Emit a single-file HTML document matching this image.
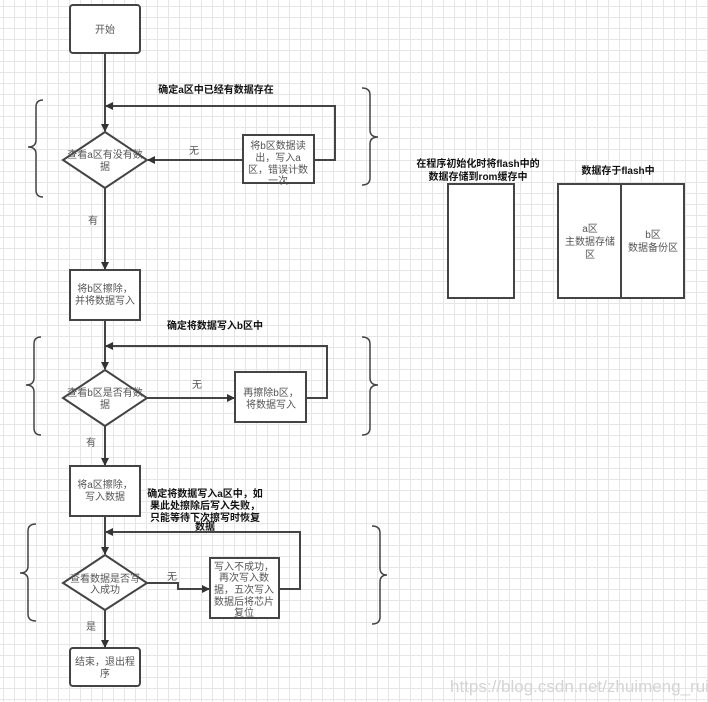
<!DOCTYPE html>
<html><head><meta charset="utf-8"><style>
html,body{margin:0;padding:0;background:#fff;}
body{width:708px;height:702px;overflow:hidden;position:relative;
background-image:linear-gradient(to right,#e6e6e6 1px,transparent 1px),linear-gradient(to bottom,#e6e6e6 1px,transparent 1px);
background-size:11px 11px;background-position:3px 6px;}
svg{position:absolute;left:0;top:0;}
text{font-family:"Liberation Sans","Noto Sans CJK SC",sans-serif;}
.n{font-size:10px;fill:#555;text-anchor:middle;}
.b{font-size:10px;fill:#111;font-weight:bold;text-anchor:middle;}
</style></head><body>
<svg width="708" height="702" viewBox="0 0 708 702">
<defs><marker id="a" markerWidth="8" markerHeight="8" refX="7" refY="4" orient="auto" markerUnits="userSpaceOnUse"><path d="M0,0 L8,4 L0,8 z" fill="#333"/></marker></defs>
<g fill="#fff" stroke="#444" stroke-width="2">
<rect x="70" y="5" width="70" height="48" rx="3"/>
<polygon points="105,132 147,160 105,188 63,160"/>
<rect x="243" y="135" width="71" height="48"/>
<rect x="70" y="270" width="70" height="50"/>
<polygon points="105,370 147,398 105,426 63,398"/>
<rect x="235" y="372" width="71" height="50"/>
<rect x="70" y="466" width="70" height="50"/>
<polygon points="105,555 147,583 105,610 63,583"/>
<rect x="210" y="558" width="69" height="60"/>
<rect x="70" y="648" width="70" height="38" rx="3"/>
<rect x="448" y="184" width="66" height="114"/>
<rect x="558" y="184" width="126" height="114"/>
<line x1="621" y1="184" x2="621" y2="298"/>
</g>
<g fill="none" stroke="#444" stroke-width="2">
<line x1="105" y1="53" x2="105" y2="131" marker-end="url(#a)"/>
<polyline points="314,160 335,160 335,106 106,106" marker-end="url(#a)"/>
<line x1="243" y1="160" x2="148" y2="160" marker-end="url(#a)"/>
<line x1="105" y1="188" x2="105" y2="269" marker-end="url(#a)"/>
<line x1="105" y1="320" x2="105" y2="369" marker-end="url(#a)"/>
<polyline points="306,398 327,398 327,346 106,346" marker-end="url(#a)"/>
<line x1="147" y1="398" x2="234" y2="398" marker-end="url(#a)"/>
<line x1="105" y1="426" x2="105" y2="465" marker-end="url(#a)"/>
<line x1="105" y1="516" x2="105" y2="554" marker-end="url(#a)"/>
<polyline points="279,589 300,589 300,532 106,532" marker-end="url(#a)"/>
<polyline points="147,583 178,583 178,589 209,589" marker-end="url(#a)"/>
<line x1="105" y1="610" x2="105" y2="647" marker-end="url(#a)"/>
</g>
<g fill="none" stroke="#444" stroke-width="1.5">
<path d="M43,100 Q36,100 36,107 L36,140 Q36,147 28,147 Q36,147 36,154 L36,190 Q36,197 43,197"/>
<path d="M362,88 Q370,88 370,95 L370,130 Q370,137 378,137 Q370,137 370,144 L370,178 Q370,185 362,185"/>
<path d="M41,337 Q34,337 34,344 L34,378 Q34,385 26,385 Q34,385 34,392 L34,428 Q34,435 41,435"/>
<path d="M362,337 Q370,337 370,344 L370,378 Q370,385 378,385 Q370,385 370,392 L370,428 Q370,435 362,435"/>
<path d="M36,524 Q28,524 28,531 L28,566 Q28,573 20,573 Q28,573 28,580 L28,614 Q28,621 36,621"/>
<path d="M372,526 Q380,526 380,533 L380,568 Q380,575 387,575 Q380,575 380,582 L380,617 Q380,624 372,624"/>
</g>
<text class="n" x="105" y="33">开始</text>
<text class="b" x="216" y="93">确定a区中已经有数据存在</text>
<text class="n" x="105" y="158">查看a区有没有数</text>
<text class="n" x="105" y="170">据</text>
<text class="n" x="194" y="154">无</text>
<text class="n" x="278" y="149">将b区数据读</text>
<text class="n" x="278" y="161">出，写入a</text>
<text class="n" x="278" y="173">区，错误计数</text>
<text class="n" x="278" y="184">一次</text>
<text class="n" x="93" y="224">有</text>
<text class="n" x="105" y="292">将b区擦除，</text>
<text class="n" x="105" y="304">并将数据写入</text>
<text class="b" x="215" y="329">确定将数据写入b区中</text>
<text class="n" x="105" y="396">查看b区是否有数</text>
<text class="n" x="105" y="408">据</text>
<text class="n" x="197" y="388">无</text>
<text class="n" x="271" y="396">再擦除b区，</text>
<text class="n" x="271" y="408">将数据写入</text>
<text class="n" x="91" y="446">有</text>
<text class="n" x="105" y="488">将a区擦除，</text>
<text class="n" x="105" y="500">写入数据</text>
<text class="b" x="205" y="497">确定将数据写入a区中，如</text>
<text class="b" x="205" y="509">果此处擦除后写入失败，</text>
<text class="b" x="205" y="521">只能等待下次擦写时恢复</text>
<text class="b" x="205" y="530">数据</text>
<text class="n" x="105" y="582">查看数据是否写</text>
<text class="n" x="105" y="593">入成功</text>
<text class="n" x="172" y="580">无</text>
<text class="n" x="244" y="570">写入不成功，</text>
<text class="n" x="244" y="581">再次写入数</text>
<text class="n" x="244" y="593">据，五次写入</text>
<text class="n" x="244" y="605">数据后将芯片</text>
<text class="n" x="244" y="616">复位</text>
<text class="n" x="91" y="630">是</text>
<text class="n" x="105" y="665">结束，退出程</text>
<text class="n" x="105" y="677">序</text>
<text class="b" x="478" y="167">在程序初始化时将flash中的</text>
<text class="b" x="478" y="180">数据存储到rom缓存中</text>
<text class="b" x="618" y="174">数据存于flash中</text>
<text class="n" x="590" y="232">a区</text>
<text class="n" x="590" y="245">主数据存储</text>
<text class="n" x="590" y="258">区</text>
<text class="n" x="653" y="238">b区</text>
<text class="n" x="653" y="251">数据备份区</text>
<text x="450" y="692" style="font-size:17px;fill:#d4d4d4;">https://blog.csdn.net/zhuimeng_ruili</text>
</svg>
</body></html>
